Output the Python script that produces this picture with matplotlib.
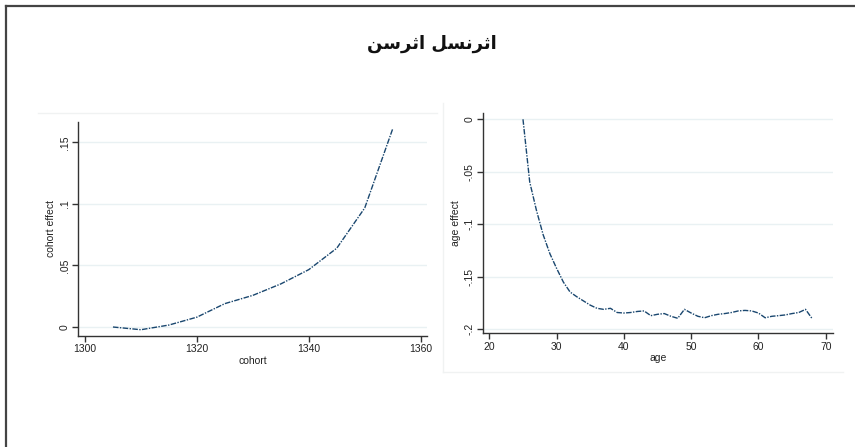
import matplotlib
matplotlib.use("Agg")
import matplotlib.pyplot as plt
from matplotlib.lines import Line2D

# ---- data ----
cohort = [1305, 1310, 1315, 1320, 1325, 1330, 1335, 1340, 1345, 1350, 1355]
cohort_effect = [0.0, -0.0022, 0.0016, 0.008, 0.019, 0.0257, 0.035, 0.0466,
                 0.064, 0.0967, 0.161]

age = list(range(25, 69))
age_effect = [0.0, -0.0597, -0.0867, -0.110, -0.128, -0.142, -0.155, -0.1645,
              -0.169, -0.173, -0.177, -0.180, -0.181, -0.180, -0.184, -0.1845,
              -0.184, -0.183, -0.1825, -0.187, -0.1857, -0.185, -0.1876, -0.1895,
              -0.181, -0.1845, -0.1876, -0.189, -0.187, -0.1857, -0.185, -0.184,
              -0.1825, -0.182, -0.1825, -0.1845, -0.189, -0.1876, -0.187, -0.1863,
              -0.185, -0.184, -0.181, -0.190]

cohort_ticks = [1300, 1320, 1340, 1360]
cohort_yticks = [0, 0.05, 0.1, 0.15]
cohort_ylabels = ["0", ".05", ".1", ".15"]
age_ticks = [20, 30, 40, 50, 60, 70]
age_yticks = [0, -0.05, -0.1, -0.15, -0.2]
age_ylabels = ["0", "-.05", "-.1", "-.15", "-.2"]

title_text = "اثرنسل اثرسن"


# ---- minimal Arabic shaping (matplotlib draws glyphs without shaping) ----
# letter: (isolated, final, initial, medial); None where the form does not exist
FORMS = {
    "ا": ("\uFE8D", "\uFE8E", None, None),
    "ث": ("\uFE99", "\uFE9A", "\uFE9B", "\uFE9C"),
    "ر": ("\uFEAD", "\uFEAE", None, None),
    "ن": ("\uFEE5", "\uFEE6", "\uFEE7", "\uFEE8"),
    "س": ("\uFEB1", "\uFEB2", "\uFEB3", "\uFEB4"),
    "ل": ("\uFEDD", "\uFEDE", "\uFEDF", "\uFEE0"),
}


def joins_left(ch):
    return ch in FORMS and FORMS[ch][2] is not None


def shape(text):
    out = []
    for i, ch in enumerate(text):
        if ch not in FORMS:
            out.append(ch)
            continue
        prev = text[i - 1] if i > 0 else ""
        nxt = text[i + 1] if i + 1 < len(text) else ""
        from_prev = joins_left(prev)
        to_next = joins_left(ch) and nxt in FORMS
        iso, fin, ini, med = FORMS[ch]
        if from_prev and to_next:
            out.append(med)
        elif from_prev:
            out.append(fin)
        elif to_next:
            out.append(ini)
        else:
            out.append(iso)
    return "".join(reversed(out))


plt.rcParams["font.family"] = ["Liberation Sans", "DejaVu Sans"]

W, H = 855, 447
fig = plt.figure(figsize=(W / 100, H / 100), dpi=100)
fig.patch.set_facecolor("white")

LINE = "#1a476f"
GRID = "#e9f1f3"
SPINE = "#333333"
FAINT = "#f0f2f2"


def px_rect(x0, y0, x1, y1):
    return [x0 / W, 1 - y1 / H, (x1 - x0) / W, (y1 - y0) / H]


# outer frame (top and left edges)
fig.add_artist(Line2D([6 / W, 6 / W], [0, 1 - 6 / H], transform=fig.transFigure,
                      color="#444444", lw=1.6))
fig.add_artist(Line2D([6 / W, 1], [1 - 6 / H, 1 - 6 / H], transform=fig.transFigure,
                      color="#444444", lw=1.6))

# faint outlines of the sub-graph regions
fig.add_artist(Line2D([38 / W, 437 / W], [1 - 112.7 / H] * 2, transform=fig.transFigure,
                      color=FAINT, lw=1))
fig.add_artist(Line2D([443 / W, 443 / W], [1 - 103 / H, 1 - 372 / H], transform=fig.transFigure,
                      color=FAINT, lw=1))
fig.add_artist(Line2D([443 / W, 843 / W], [1 - 372 / H] * 2, transform=fig.transFigure,
                      color=FAINT, lw=1))

fig.text(432 / W, 1 - 44 / H, shape(title_text), ha="center", va="center",
         fontsize=13, fontweight="bold", family=["DejaVu Sans"], color="#111111")


def style(ax, xt, yt, ylabels):
    for s in ("top", "right"):
        ax.spines[s].set_visible(False)
    for s in ("left", "bottom"):
        ax.spines[s].set_color(SPINE)
        ax.spines[s].set_linewidth(1.0)
    ax.set_xticks(xt)
    ax.set_yticks(yt)
    ax.set_yticklabels(ylabels, rotation=90, va="center")
    ax.tick_params(direction="out", length=4, width=1, color=SPINE,
                   labelsize=7.5, pad=2, labelcolor="#222222")
    ax.grid(axis="y", color=GRID, lw=1)
    ax.set_axisbelow(True)


ax1 = fig.add_axes(px_rect(78, 121.7, 426.7, 336))
ax1.plot(cohort, cohort_effect, color=LINE, lw=1.0, ls=(0, (4, 1, 1, 1)))
ax1.set_xlim(1298.75, 1361.07)
ax1.set_ylim(-0.0073, 0.1667)
style(ax1, cohort_ticks, cohort_yticks, cohort_ylabels)
ax1.set_xlabel("cohort", fontsize=7.5, labelpad=1, color="#222222")
ax1.set_ylabel("cohort effect", fontsize=7.5, labelpad=3, color="#222222")

ax2 = fig.add_axes(px_rect(483.3, 113.3, 832.7, 333.3))
ax2.plot(age, age_effect, color=LINE, lw=1.0, ls=(0, (4, 1, 1, 1)))
ax2.set_xlim(19.1, 71.04)
ax2.set_ylim(-0.2038, 0.0057)
style(ax2, age_ticks, age_yticks, age_ylabels)
ax2.set_xlabel("age", fontsize=7.5, labelpad=1, color="#222222")
ax2.set_ylabel("age effect", fontsize=7.5, labelpad=3, color="#222222")

fig.savefig("out.png", dpi=100, facecolor="white")
